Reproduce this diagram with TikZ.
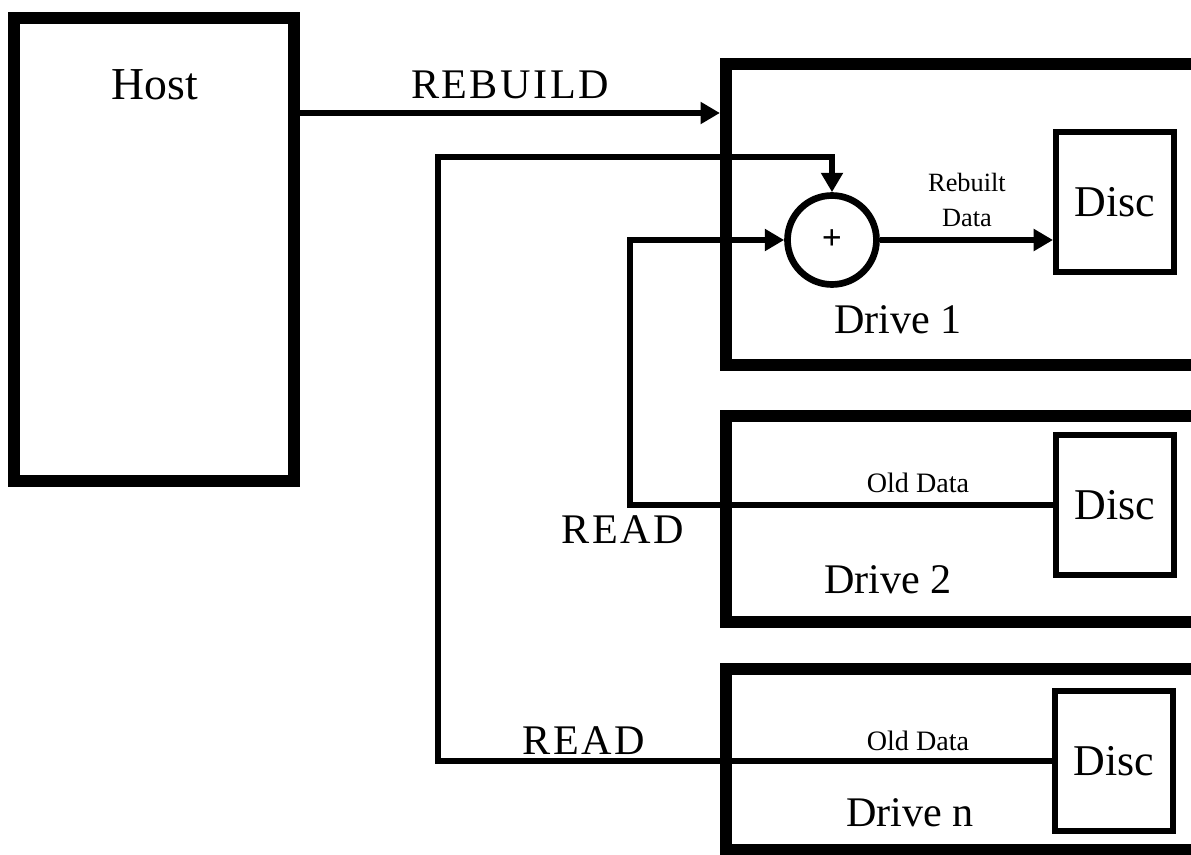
\documentclass[tikz,border=0pt]{standalone}
\usepackage{fontspec}
\setmainfont{Liberation Serif}
\newfontfamily\spacedfont[LetterSpace=6]{Liberation Serif}
\usepackage{tikz}
\usetikzlibrary{arrows.meta,positioning,calc}

\begin{document}
\begin{tikzpicture}[x=0.02cm,y=-0.02cm,>={Triangle[length=11pt,width=12pt]},
  bigbox/.style={draw,line width=7pt,inner sep=0pt},
  discbox/.style={draw,line width=3.4pt,inner sep=0pt,minimum width=2.36cm,minimum height=2.8cm,font=\fontsize{25}{28}\selectfont},
  conn/.style={line width=3.4pt},
  biglbl/.style={font=\fontsize{24}{28}\selectfont},
  caplbl/.style={font=\spacedfont\fontsize{24}{28}\selectfont},
  smalllbl/.style={font=\fontsize{16}{20}\selectfont}]
\useasboundingbox (0,0) rectangle (1191,855);
\clip (0,0) rectangle (1191,855);
% host
\node[bigbox,minimum width=5.6cm,minimum height=9.26cm] (host) at (154,249.5){};
\node[biglbl,font=\fontsize{26}{30}\selectfont] (hostlbl) at (155,85){Host};
% drives
\node[bigbox,minimum width=10.68cm,minimum height=6.02cm] (drive1) at (993,214.5){};
\node[bigbox,minimum width=10.68cm,minimum height=4.12cm] (drive2) at (993,519){};
\node[bigbox,minimum width=10.68cm,minimum height=3.62cm] (driven) at (993,759.5){};
\node[biglbl] (d1lbl) at (898,320){Drive 1};
\node[biglbl] (d2lbl) at (888,580){Drive 2};
\node[biglbl] (dnlbl) at (910,813){Drive n};
% discs
\node[discbox] (disc1) at (1115,202){Disc};
\node[discbox] (disc2) at (1115,505){Disc};
\node[discbox] (discn) at (1114,761){Disc};
% adder
\node[draw,circle,line width=3.8pt,minimum size=1.78cm,inner sep=0pt,font=\bfseries\fontsize{20}{22}\selectfont] (sum) at (832,240){+};
\coordinate (bendn) at (438,157);
\coordinate (bend2) at (630,240);
% connectors
\draw[conn,->] (host.east |- 0,113) -- (drive1.west |- 0,113);
\draw[conn,->] (discn.west) -| (bendn) -| (sum.north);
\draw[conn,->] (disc2.west) -| (bend2) -- (sum.west);
\draw[conn,->] (sum.east) -- (sum.east -| disc1.west);
% labels
\node[caplbl] (rebuild) at (510,85){REBUILD};
\node[caplbl] (read2) at (623,530){READ};
\node[caplbl] (readn) at (584,741){READ};
\node[align=center,font=\fontsize{15}{20}\selectfont] (rebuilt) at (967,200){Rebuilt\\Data};
\node[smalllbl] (old2) at (918,483){Old Data};
\node[smalllbl] (oldn) at (918,741){Old Data};
\end{tikzpicture}
\end{document}
